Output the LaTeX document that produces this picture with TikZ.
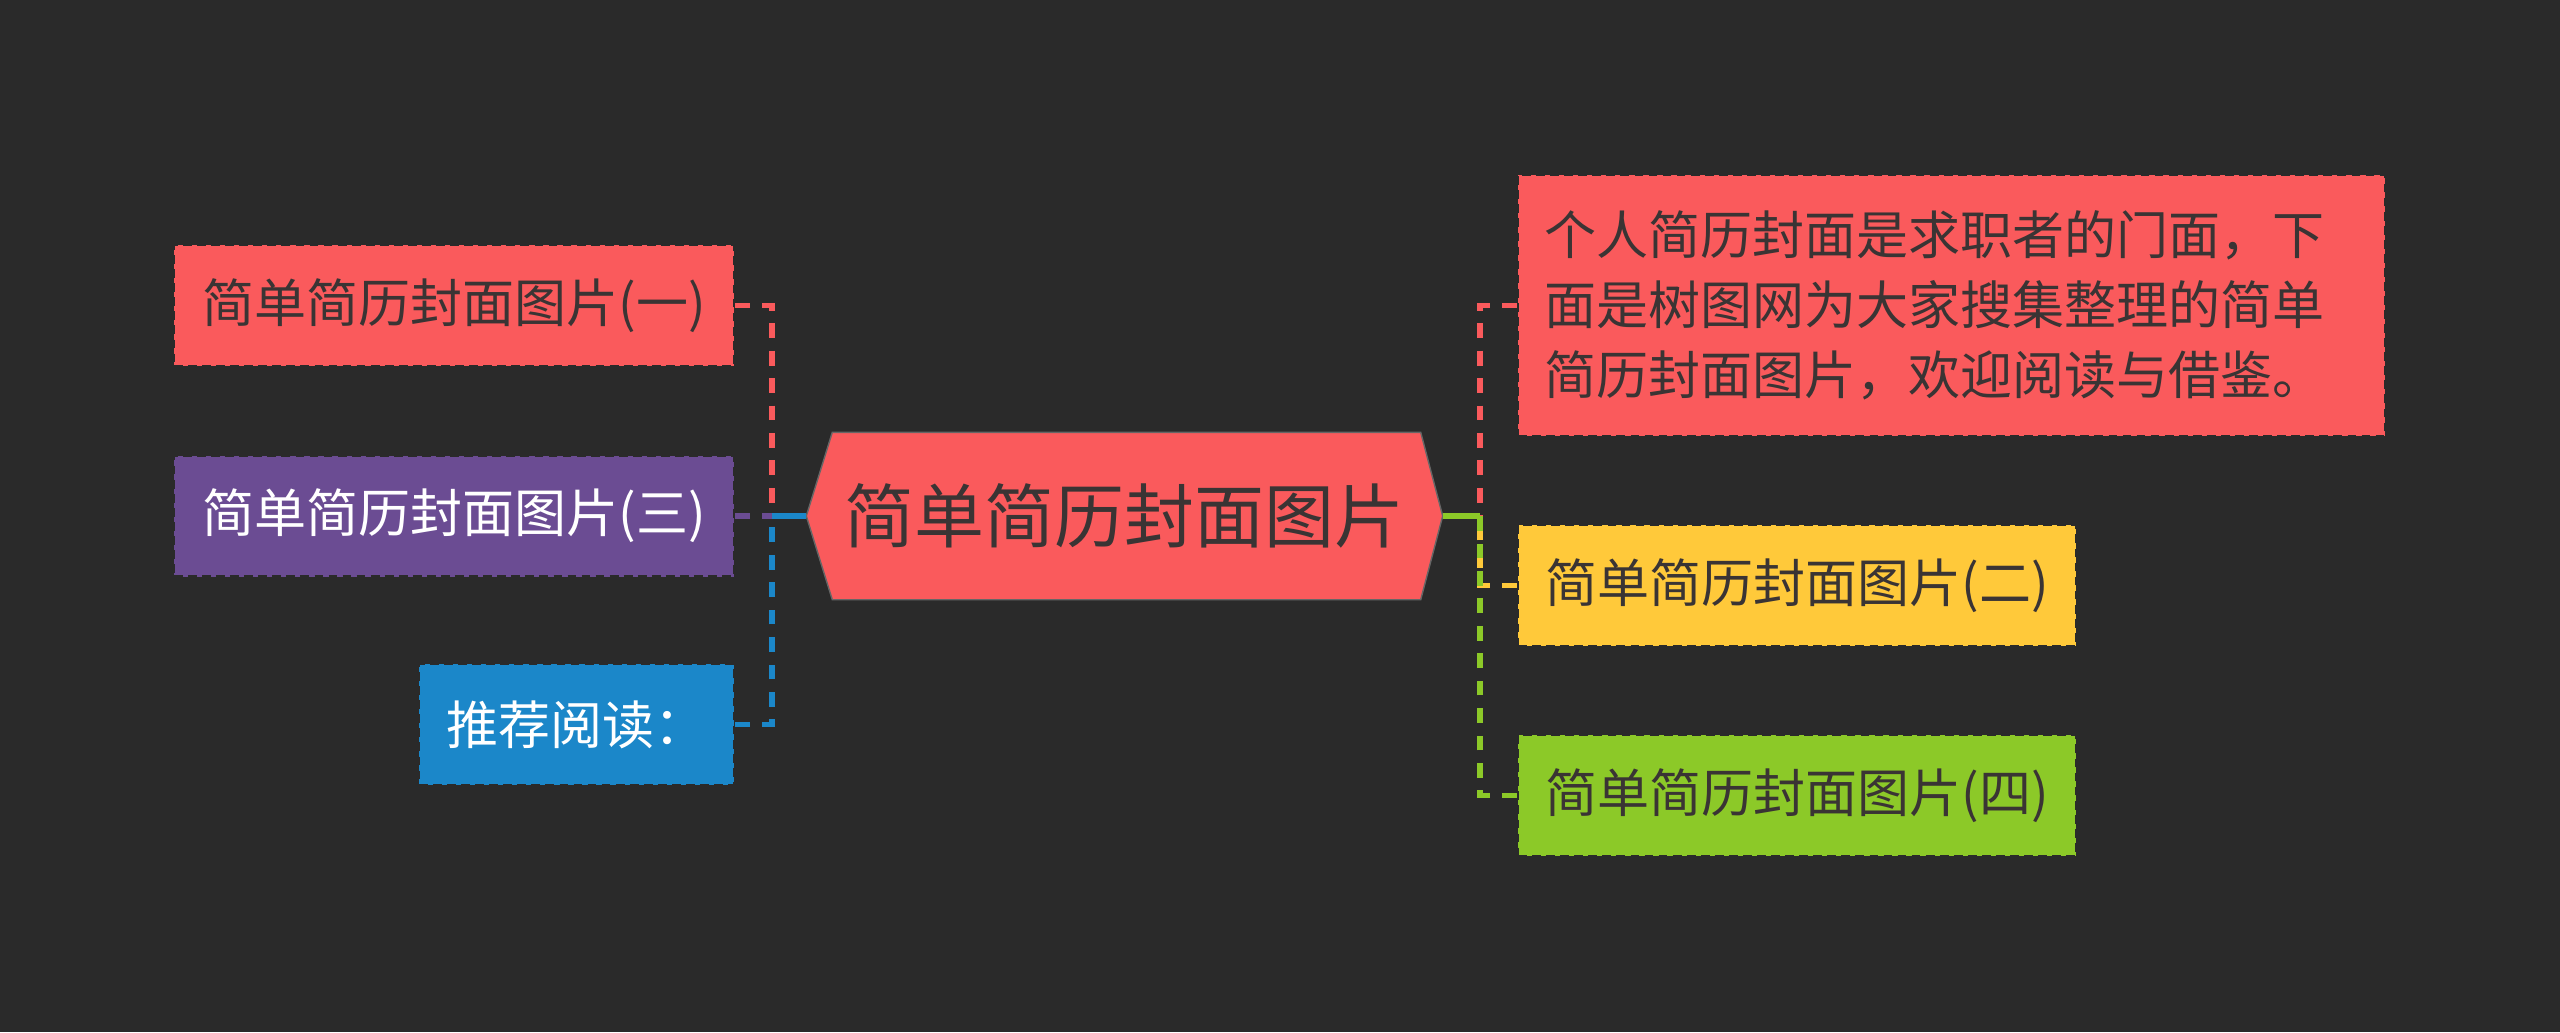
\documentclass[tikz,border=0pt]{standalone}
\usepackage{fontspec}
\setmainfont{Noto Sans CJK SC}
\usetikzlibrary{backgrounds}

\definecolor{bgdark}{HTML}{2A2A2A}
\definecolor{mapred}{HTML}{FA5A5C}
\definecolor{mappurple}{HTML}{6B4C93}
\definecolor{mapblue}{HTML}{1B87C9}
\definecolor{mapyellow}{HTML}{FFC93A}
\definecolor{mapgreen}{HTML}{8CC928}
\definecolor{inkdark}{HTML}{3A3434}

\begin{document}
\begin{tikzpicture}

\tikzset{topicbox/.style = {shape=rectangle,draw=bgdark,line width=0.6pt,dash pattern=on 2.5pt off 1.5pt,minimum height=1.21cm,inner xsep=0.26cm,font=\fontsize{14.8}{20}\selectfont,text=inkdark}}
\tikzset{rootnode/.style = {shape=rectangle,minimum width=6.35cm,minimum height=1.66cm,font=\fontsize{19.9}{24}\selectfont,text=inkdark}}
\tikzset{link/.style = {line width=1.7pt,dash pattern=on 4.2pt off 3.6pt}}

\begin{scope}[on background layer]
\fill[bgdark] (0,0) rectangle (25.6,10.32);
\end{scope}
%topics
\node[rootnode] (root) at (11.245,5.16) {简单简历封面图片};
\node[topicbox, fill=mapred, minimum width=5.6cm, anchor=east] (one) at (7.35,7.265) {简单简历封面图片(一)};
\node[topicbox, fill=mappurple, text=white, minimum width=5.6cm, anchor=east] (three) at (7.35,5.16) {简单简历封面图片(三)};
\node[topicbox, fill=mapblue, text=white, minimum width=3.15cm, anchor=east] (read) at (7.35,3.075) {推荐阅读：};
\node[topicbox, fill=mapred, minimum height=2.61cm, text width=8.15cm, align=left, anchor=west] (intro) at (15.17,7.265) {个人简历封面是求职者的门面，下\\面是树图网为大家搜集整理的简单\\简历封面图片，欢迎阅读与借鉴。};
\node[topicbox, fill=mapyellow, minimum width=5.58cm, anchor=west] (two) at (15.17,4.465) {简单简历封面图片(二)};
\node[topicbox, fill=mapgreen, minimum width=5.58cm, anchor=west] (four) at (15.17,2.365) {简单简历封面图片(四)};
%hexagon behind the main topic
\begin{scope}[on background layer]
\draw[fill=mapred, draw=black!60, line width=0.4pt] (root.west) -- ([xshift=0.26cm]root.north west) -- ([xshift=-0.22cm]root.north east) -- (root.east) -- ([xshift=-0.22cm]root.south east) -- ([xshift=0.26cm]root.south west) -- cycle;
\end{scope}
%links
\coordinate (lhub) at (7.72,5.16);
\coordinate (rhub) at (14.8,5.16);
\draw[link, mapred] (one.east) -| (lhub);
\draw[link, mappurple] (three.east) -- (lhub);
\draw[link, mapblue] (read.east) -| (lhub);
\draw[line width=1.7pt, mapblue] (root.west) -- (lhub);
\draw[link, mapred] (intro.west) -| (rhub);
\draw[link, mapyellow] (two.west) -| (rhub);
\draw[link, mapgreen] (four.west) -| (rhub);
\draw[line width=1.7pt, mapgreen] (root.east) -- (rhub);

\end{tikzpicture}
\end{document}
